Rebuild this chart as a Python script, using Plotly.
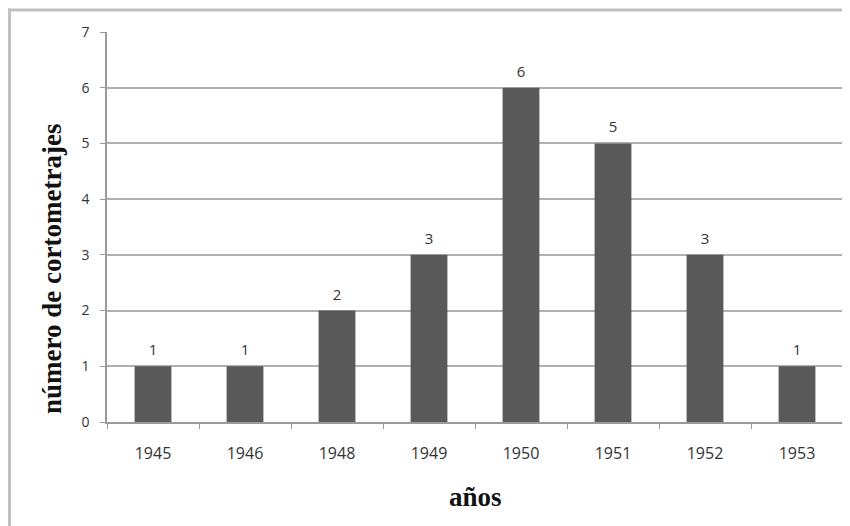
import plotly.graph_objects as go

years = ["1945", "1946", "1948", "1949", "1950", "1951", "1952", "1953"]
counts = [1, 1, 2, 3, 6, 5, 3, 1]
y_ticks = [0, 1, 2, 3, 4, 5, 6, 7]

# page body has an 8px margin; work in reference pixels and shift
OFF = 8
W, H = 850 - OFF, 526 - OFF
L, R, T, B = 107 - OFF, 7, 32 - OFF, 526 - 422
pw, ph = W - L - R, H - T - B

def px(x):
    return (x - OFF - L) / pw

def py(y):
    return (H - B - (y - OFF)) / ph

FAM = "Open Sans, Liberation Sans, sans-serif"
XFONT = dict(family=FAM, size=16, color="#333333")
YFONT = dict(family=FAM, size=14, color="#333333")
LBLFONT = dict(family=FAM, size=15, color="#333333")
TITLEFONT = dict(family="Liberation Serif, Times New Roman, serif", size=27, color="#111111")

fig = go.Figure()
fig.add_trace(go.Bar(
    x=years, y=counts,
    marker=dict(color="#595959", line=dict(width=0)),
))
fig.add_trace(go.Scatter(
    x=years, y=counts, mode="markers+text",
    marker=dict(size=10, opacity=0),
    text=[str(c) for c in counts], textposition="top center", textfont=LBLFONT,
    cliponaxis=False, hoverinfo="skip",
))

fig.update_layout(
    width=W, height=H,
    margin=dict(l=L, r=R, t=T, b=B, autoexpand=False),
    paper_bgcolor="white", plot_bgcolor="white",
    bargap=0.6, showlegend=False,
    font=YFONT,
    xaxis=dict(
        type="category", categoryorder="array", categoryarray=years,
        showgrid=False, showline=True, linecolor="#9a9a9a", linewidth=1.5,
        ticks="outside", tickson="boundaries", ticklen=5, tickcolor="#9a9a9a",
        tickfont=XFONT, ticklabelstandoff=16,
    ),
    yaxis=dict(
        range=[0, 7], tickvals=y_ticks, showgrid=True, gridcolor="#b0b0b0", gridwidth=2,
        showline=True, linecolor="#9a9a9a", linewidth=1.5,
        ticks="outside", ticklen=5, tickcolor="#9a9a9a", zeroline=False,
        tickfont=YFONT, ticklabelstandoff=8,
    ),
    shapes=[
        dict(type="line", xref="paper", yref="paper", x0=px(8), x1=px(860), y0=py(10), y1=py(10),
             line=dict(color="#c2c2c2", width=3)),
        dict(type="line", xref="paper", yref="paper", x0=px(9.5), x1=px(9.5), y0=py(8.5), y1=py(540),
             line=dict(color="#c2c2c2", width=3)),
    ],
)
fig.add_annotation(text="<b>años</b>", xref="paper", yref="paper", x=px(475), y=py(497),
                   showarrow=False, font=TITLEFONT, xanchor="center", yanchor="middle")
fig.add_annotation(text="<b>número de cortometrajes</b>", xref="paper", yref="paper",
                   x=px(52), y=py(269), showarrow=False, textangle=-90, font=TITLEFONT,
                   xanchor="center", yanchor="middle")

fig.write_html("out.html")
